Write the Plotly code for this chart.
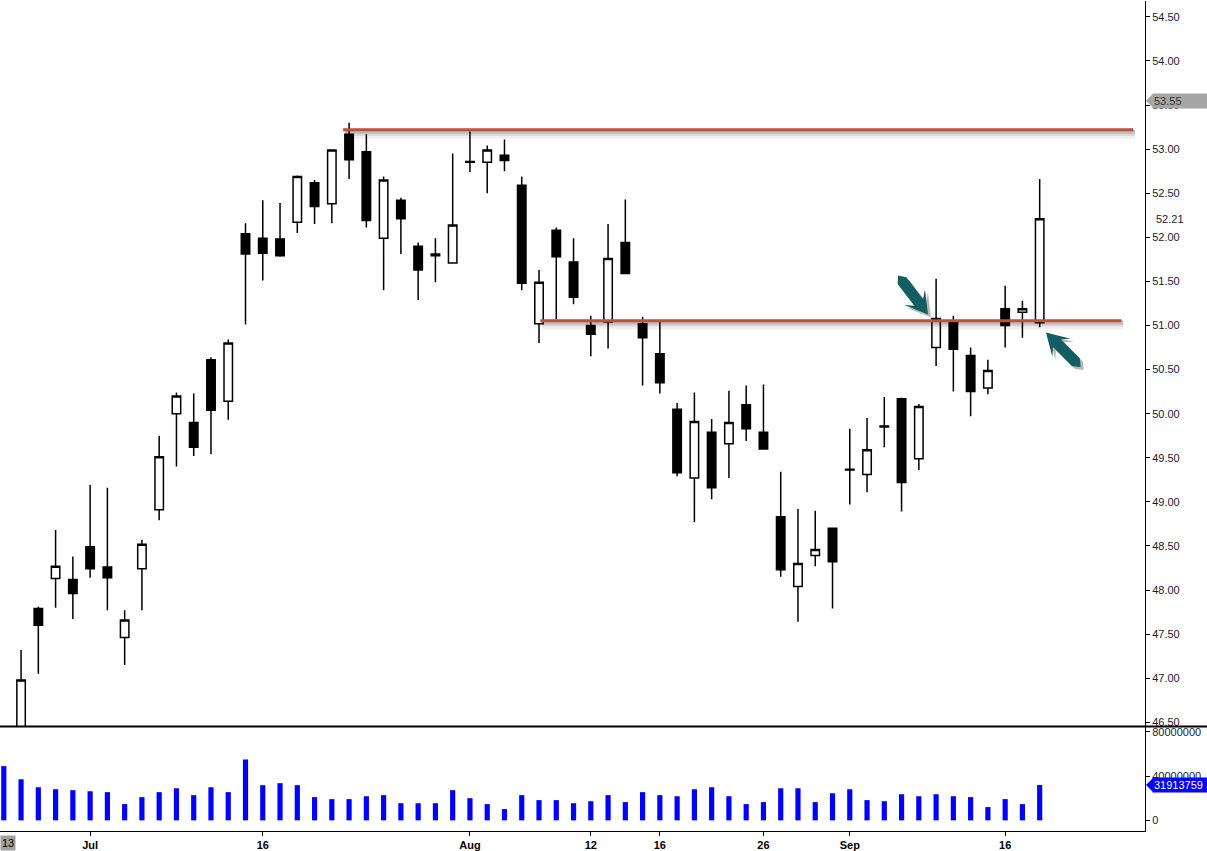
import math
import plotly.graph_objects as go

# ---------------- data ----------------
dates = [
    "2013-06-24", "2013-06-25", "2013-06-26", "2013-06-27", "2013-06-28",
    "2013-07-01", "2013-07-02", "2013-07-03", "2013-07-05", "2013-07-08",
    "2013-07-09", "2013-07-10", "2013-07-11", "2013-07-12", "2013-07-15",
    "2013-07-16", "2013-07-17", "2013-07-18", "2013-07-19", "2013-07-22",
    "2013-07-23", "2013-07-24", "2013-07-25", "2013-07-26", "2013-07-29",
    "2013-07-30", "2013-07-31", "2013-08-01", "2013-08-02", "2013-08-05",
    "2013-08-06", "2013-08-07", "2013-08-08", "2013-08-09", "2013-08-12",
    "2013-08-13", "2013-08-14", "2013-08-15", "2013-08-16", "2013-08-19",
    "2013-08-20", "2013-08-21", "2013-08-22", "2013-08-23", "2013-08-26",
    "2013-08-27", "2013-08-28", "2013-08-29", "2013-08-30", "2013-09-03",
    "2013-09-04", "2013-09-05", "2013-09-06", "2013-09-09", "2013-09-10",
    "2013-09-11", "2013-09-12", "2013-09-13", "2013-09-16", "2013-09-17",
    "2013-09-18",
]

# candles (Jun 24 candle lies below the visible price range)
candle_dates = dates[1:]
open_ = [46.30, 47.79, 48.13, 48.12, 48.49, 48.26, 47.46, 48.24, 48.91, 50.00,
         49.90, 50.61, 50.14, 52.04, 51.99, 51.98, 52.17, 52.62, 52.38, 53.17,
         52.97, 51.99, 52.42, 51.90, 51.81, 51.71, 52.86, 52.85, 52.93, 52.59,
         51.02, 52.08, 51.72, 51.00, 51.04, 51.94, 51.02, 50.68, 50.05, 49.27,
         49.79, 49.66, 50.10, 49.79, 48.83, 48.04, 48.39, 48.70, 49.37, 49.31,
         49.86, 50.17, 49.49, 50.75, 51.03, 50.66, 50.29, 51.19, 51.15, 51.03]
high = [47.32, 47.81, 48.68, 48.38, 49.19, 49.16, 47.77, 48.57, 49.75, 50.24,
        50.23, 50.64, 50.84, 52.16, 52.42, 52.39, 52.70, 52.65, 53.00, 53.30,
        53.17, 52.69, 52.45, 51.94, 51.99, 52.95, 53.20, 53.04, 53.11, 52.69,
        51.63, 52.11, 51.99, 51.11, 52.15, 52.43, 51.10, 51.06, 50.12, 50.24,
        49.94, 50.26, 50.32, 50.33, 49.34, 48.92, 48.90, 48.71, 49.83, 49.95,
        50.19, 50.18, 50.11, 51.53, 51.11, 50.75, 50.61, 51.45, 51.28, 52.66]
low = [46.10, 47.05, 47.80, 47.67, 48.14, 47.77, 47.15, 47.77, 48.79, 49.40,
       49.52, 49.54, 49.93, 51.01, 51.51, 51.78, 52.05, 52.15, 52.16, 52.66,
       52.11, 51.40, 51.81, 51.29, 51.49, 51.70, 52.74, 52.50, 52.75, 51.40,
       50.80, 51.07, 51.24, 50.65, 50.74, 51.58, 50.32, 50.23, 49.29, 48.77,
       49.03, 49.27, 49.69, 49.60, 48.15, 47.64, 48.27, 47.79, 48.97, 49.11,
       49.62, 48.89, 49.36, 50.54, 50.25, 49.97, 50.22, 50.75, 50.86, 50.98]
close = [46.98, 47.60, 48.27, 47.96, 48.24, 48.14, 47.66, 48.52, 49.51, 50.20,
         49.62, 50.04, 50.80, 51.81, 51.82, 51.79, 52.69, 52.35, 52.99, 52.88,
         52.19, 52.65, 52.21, 51.63, 51.79, 52.14, 52.85, 52.99, 52.87, 51.48,
         51.49, 51.78, 51.32, 50.90, 51.76, 51.59, 50.86, 50.35, 49.33, 49.91,
         49.16, 49.90, 49.83, 49.60, 48.23, 48.30, 48.46, 48.32, 49.36, 49.59,
         49.85, 49.22, 50.08, 51.08, 50.73, 50.25, 50.49, 51.00, 51.19, 52.21]

volume = [49000000, 37100000, 29900000, 28100000, 27300000, 26300000, 25500000,
          14700000, 21000000, 25500000, 29000000, 22800000, 29900000, 25500000,
          55100000, 31800000, 33600000, 31800000, 21000000, 19200000, 19200000,
          21800000, 22800000, 15500000, 15500000, 15500000, 27300000, 20000000,
          14700000, 10200000, 22800000, 18300000, 18300000, 15500000, 17300000,
          22800000, 16500000, 25500000, 22800000, 21800000, 28100000, 29900000,
          21800000, 14700000, 16500000, 29000000, 29000000, 16500000, 24500000,
          28100000, 18300000, 17300000, 23600000, 21800000, 23600000, 21800000,
          21000000, 12000000, 19200000, 14700000, 31913759]

tick_dates = ["2013-07-01", "2013-07-16", "2013-08-01", "2013-08-12",
              "2013-08-16", "2013-08-26", "2013-09-03", "2013-09-16"]
tick_text = ["Jul", "16", "Aug", "12", "16", "26", "Sep", "16"]

price_ticks = [46.5, 47.0, 47.5, 48.0, 48.5, 49.0, 49.5, 50.0, 50.5, 51.0,
               51.5, 52.0, 52.5, 53.0, 53.5, 54.0, 54.5]
volume_ticks = [0, 40000000, 80000000]

resistance_level = 53.22
support_level = 51.055
marker_price = 53.55
last_close_label = "52.21"
last_volume = 31913759

# ---------------- layout geometry ----------------
W, H = 1207, 851
ML, MR, MT, MB = 0, 62, 0, 17
PW, PH = W - ML - MR, H - MT - MB          # plot area in px
split_px = 729                              # separator between panes
vol_top = 1 - split_px / PH                 # paper fraction
price_range = [46.452, 54.68]
vol_range = [-9.6e6, 84.8e6]
x_range = [-0.22, 66.1]

def px_to_paper(px, py):
    return px / PW, 1 - py / PH

fig = go.Figure()

fig.add_trace(go.Candlestick(
    x=candle_dates, open=open_, high=high, low=low, close=close,
    xaxis="x", yaxis="y",
    increasing=dict(line=dict(color="black", width=1.5), fillcolor="white"),
    decreasing=dict(line=dict(color="black", width=1.5), fillcolor="black"),
    whiskerwidth=0, showlegend=False, hoverinfo="x+y",
))

fig.add_trace(go.Bar(
    x=dates, y=volume, xaxis="x2", yaxis="y2",
    marker=dict(color="#0000FF", line=dict(width=0)),
    width=0.3, showlegend=False,
))

axis_font = dict(family="Arial, Liberation Sans, sans-serif", size=11, color="#1a1a2e")

fig.update_layout(
    width=W, height=H,
    margin=dict(l=ML, r=MR, t=MT, b=MB),
    paper_bgcolor="white", plot_bgcolor="white",
    showlegend=False,
    xaxis=dict(
        type="category", categoryorder="array", categoryarray=dates,
        range=x_range, domain=[0, 1], anchor="y",
        showticklabels=False, showgrid=False, zeroline=False,
        showline=False, rangeslider=dict(visible=False), matches="x2",
    ),
    xaxis2=dict(
        type="category", categoryorder="array", categoryarray=dates,
        range=x_range, domain=[0, 1], anchor="y2",
        tickmode="array", tickvals=tick_dates, ticktext=tick_text,
        ticks="outside", ticklen=4, tickcolor="black",
        tickfont=dict(family="Arial, Liberation Sans, sans-serif", size=11,
                      color="black", weight="bold"),
        showgrid=False, zeroline=False, showline=True, linecolor="black",
        linewidth=1,
    ),
    yaxis=dict(
        domain=[vol_top, 1], range=price_range, side="right", anchor="x",
        tickmode="array", tickvals=price_ticks,
        ticktext=[f"{v:.2f}" for v in price_ticks],
        ticks="outside", ticklen=4, tickcolor="black", tickfont=axis_font,
        showgrid=False, zeroline=False, showline=True, linecolor="black",
        linewidth=1,
    ),
    yaxis2=dict(
        domain=[0, vol_top], range=vol_range, side="right", anchor="x2",
        tickmode="array", tickvals=volume_ticks,
        ticktext=[str(v) for v in volume_ticks],
        ticks="outside", ticklen=4, tickcolor="black", tickfont=axis_font,
        showgrid=False, zeroline=False, showline=True, linecolor="black",
        linewidth=1,
    ),
)

shapes = []

# separator between price and volume panes
shapes.append(dict(type="line", xref="paper", yref="paper",
                   x0=0, x1=W / PW, y0=vol_top, y1=vol_top,
                   line=dict(color="black", width=2), layer="above"))

# support / resistance lines with soft shadow
px_per_price = split_px / (price_range[1] - price_range[0])
def level_line(level, i0, i1):
    out = []
    for off, w, a in [(4, 10, 0.06), (3, 6, 0.10), (2, 4, 0.12)]:
        d = off / px_per_price
        out.append(dict(type="line", xref="x", yref="y", x0=i0 + 0.1, x1=i1 + 0.1,
                        y0=level - d, y1=level - d,
                        line=dict(color=f"rgba(0,0,0,{a})", width=w), layer="above"))
    out.append(dict(type="line", xref="x", yref="y", x0=i0, x1=i1,
                    y0=level, y1=level,
                    line=dict(color="#C0503A", width=3), layer="above"))
    return out

shapes += level_line(resistance_level, 19.65, 65.42)
shapes += level_line(support_level, 31.07, 64.73)

# teal arrows (pixel geometry converted to paper coordinates)
def arrow_path(tip, tail, head_len=22, head_half=13, shaft_half=5.5, dx=0, dy=0):
    tx, ty = tip[0] + dx, tip[1] + dy
    lx, ly = tail[0] + dx, tail[1] + dy
    L = math.hypot(lx - tx, ly - ty)
    ux, uy = (lx - tx) / L, (ly - ty) / L
    nx, ny = -uy, ux
    pts = [
        (tx, ty),
        (tx + head_len * ux + head_half * nx, ty + head_len * uy + head_half * ny),
        (tx + 0.7 * head_len * ux + shaft_half * nx, ty + 0.7 * head_len * uy + shaft_half * ny),
        (lx + shaft_half * nx, ly + shaft_half * ny),
        (lx + 1.2 * shaft_half * ux, ly + 1.2 * shaft_half * uy),
        (lx - shaft_half * nx, ly - shaft_half * ny),
        (tx + 0.7 * head_len * ux - shaft_half * nx, ty + 0.7 * head_len * uy - shaft_half * ny),
        (tx + head_len * ux - head_half * nx, ty + head_len * uy - head_half * ny),
    ]
    p = []
    for k, (x, y) in enumerate(pts):
        X, Y = px_to_paper(x, y)
        p.append(("M" if k == 0 else "L") + f"{X:.5f},{Y:.5f}")
    return " ".join(p) + " Z"

for tip, tail in [((928, 315), (902, 281)), ((1046, 333), (1076, 363))]:
    shapes.append(dict(type="path", xref="paper", yref="paper",
                       path=arrow_path(tip, tail, dx=3, dy=3),
                       fillcolor="rgba(0,0,0,0.28)", line=dict(width=0), layer="above"))
    shapes.append(dict(type="path", xref="paper", yref="paper",
                       path=arrow_path(tip, tail),
                       fillcolor="#135E63", line=dict(width=0), layer="above"))

# price tag pointers
tip_x = 1146 / PW
base_x = 1153 / PW
shapes.append(dict(type="path", xref="paper", yref="y", ysizemode="pixel",
                   yanchor=marker_price,
                   path=f"M{tip_x},0 L{base_x},7 L{base_x},-7 Z",
                   fillcolor="#A6A6A6", line=dict(width=0), layer="above"))
shapes.append(dict(type="path", xref="paper", yref="y2", ysizemode="pixel",
                   yanchor=last_volume,
                   path=f"M{tip_x},0 L{base_x},7 L{base_x},-7 Z",
                   fillcolor="#0000FF", line=dict(width=0), layer="above"))

fig.update_layout(shapes=shapes)

annotations = [
    dict(xref="paper", yref="y", x=1152 / PW, y=marker_price, xanchor="left",
         yanchor="middle", text="53.55", showarrow=False,
         font=dict(family="Arial, Liberation Sans, sans-serif", size=11, color="#333333"),
         bgcolor="#A6A6A6", borderpad=1, width=52, align="left"),
    dict(xref="paper", yref="y", x=1154 / PW, y=float(last_close_label),
         xanchor="left", yanchor="middle", text=last_close_label, showarrow=False,
         font=dict(family="Arial, Liberation Sans, sans-serif", size=11, color="#1a1a2e")),
    dict(xref="paper", yref="y2", x=1152 / PW, y=last_volume, xanchor="left",
         yanchor="middle", text=str(last_volume), showarrow=False,
         font=dict(family="Arial, Liberation Sans, sans-serif", size=11, color="white"),
         bgcolor="#0000FF", borderpad=1, width=52, align="left"),
    dict(xref="paper", yref="paper", x=0, y=-(838 - PH) / PH, xanchor="left",
         yanchor="top", text="13", showarrow=False,
         font=dict(family="Arial, Liberation Sans, sans-serif", size=11, color="black"),
         bgcolor="#A0A0A0", borderpad=1),
]
fig.update_layout(annotations=annotations)

fig.write_html(
    "out.html",
    config={"displayModeBar": False},
    post_script="document.body.style.margin='0px';document.body.style.padding='0px';",
)
